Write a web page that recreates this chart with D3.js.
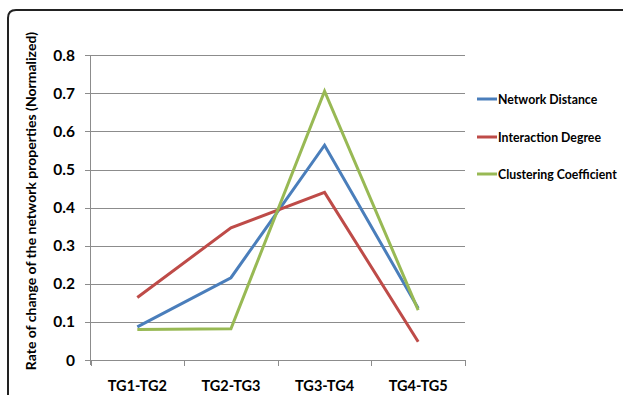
<!DOCTYPE html>
<html><head><meta charset="utf-8">
<script src="https://cdn.jsdelivr.net/npm/d3@7"></script>
<style>body{margin:0;background:#fff}svg{display:block}text{font-family:Lato,"Open Sans",sans-serif;font-weight:bold;fill:#000}</style>
</head><body><svg width="625" height="395"></svg>
<script>
const categories = ["TG1-TG2","TG2-TG3","TG3-TG4","TG4-TG5"];
const networkDistance = [0.087, 0.216, 0.564, 0.136];
const interactionDegree = [0.164, 0.347, 0.440, 0.048];
const clusteringCoefficient = [0.080, 0.082, 0.706, 0.131];
const yTicks = [0,0.1,0.2,0.3,0.4,0.5,0.6,0.7,0.8];
const seriesNames = ["Network Distance","Interaction Degree","Clustering Coefficient"];
const colors = ["#4a7ebb","#be4b48","#98b954"];
const series = [networkDistance, interactionDegree, clusteringCoefficient];

const svg = d3.select("svg");
// border
svg.append("path").attr("d","M8,395 L8,18 Q8,10 16,10 L623,10").attr("fill","none").attr("stroke","#222").attr("stroke-width",2);

const x = d3.scaleBand().domain(categories).range([90.5,465]);
const y = d3.scaleLinear().domain([0,0.8]).range([360,55.3]);

// gridlines
svg.append("g").selectAll("line").data(yTicks).join("line")
  .attr("x1",85).attr("x2",465).attr("y1",d=>Math.round(y(d))+0.5).attr("y2",d=>Math.round(y(d))+0.5)
  .attr("stroke","#8c8c8c").attr("stroke-width",1);
// y axis line
svg.append("line").attr("x1",90.5).attr("x2",90.5).attr("y1",55).attr("y2",365).attr("stroke","#8c8c8c");
// x ticks
const bounds = categories.map(c=>x(c)).concat([x.range()[1]]);
svg.append("g").selectAll("line").data(bounds).join("line")
  .attr("x1",d=>Math.round(d)+0.5).attr("x2",d=>Math.round(d)+0.5).attr("y1",360).attr("y2",366).attr("stroke","#8c8c8c");

// y tick labels
svg.append("g").selectAll("text").data(yTicks).join("text")
  .attr("x",75).attr("y",d=>y(d)+5.5).attr("text-anchor","end").attr("font-size",15.5)
  .text(d=>d===0?"0":d3.format(".1f")(d));
// x labels
svg.append("g").selectAll("text").data(categories).join("text")
  .attr("x",d=>x(d)+x.bandwidth()/2).attr("y",391).attr("text-anchor","middle").attr("font-size",14.5)
  .text(d=>d);
// y title
svg.append("text").attr("transform","translate(36,201) rotate(-90)").attr("text-anchor","middle")
  .attr("font-size",14).text("Rate of change of the network properties (Normalized)");

// lines
const line = d3.line().x((d,i)=>x(categories[i])+x.bandwidth()/2).y(d=>y(d));
series.forEach((s,k)=>{
  svg.append("path").datum(s).attr("d",line).attr("fill","none").attr("stroke",colors[k]).attr("stroke-width",3).attr("stroke-linejoin","miter");
});

// legend
const ly = [99,137,174];
seriesNames.forEach((n,k)=>{
  svg.append("line").attr("x1",477).attr("x2",497).attr("y1",ly[k]).attr("y2",ly[k]).attr("stroke",colors[k]).attr("stroke-width",3);
  svg.append("text").attr("x",498).attr("y",ly[k]+4.5).attr("font-size",12.3).text(n);
});
</script></body></html>
